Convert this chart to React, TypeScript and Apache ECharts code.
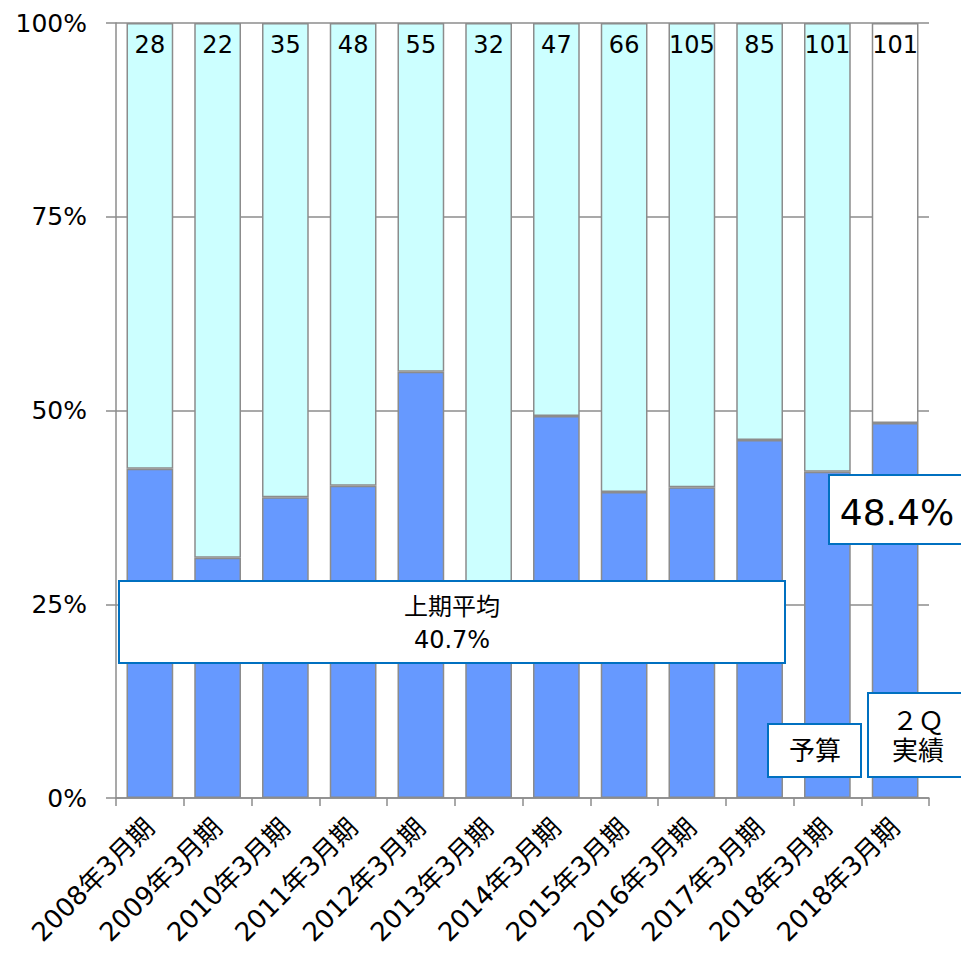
import React, { useEffect, useRef } from "react";
import * as echarts from "echarts";

const categories = [
  "2008年3月期", "2009年3月期", "2010年3月期", "2011年3月期", "2012年3月期", "2013年3月期",
  "2014年3月期", "2015年3月期", "2016年3月期", "2017年3月期", "2018年3月期", "2018年3月期",
];
// share (%) of the first half (blue segment)
const firstHalfShare = [42.5, 31.0, 38.8, 40.3, 55.0, 24.3, 49.3, 39.5, 40.1, 46.2, 42.1, 48.4];
// totals printed at the top of each bar
const totals = [28, 22, 35, 48, 55, 32, 47, 66, 105, 85, 101, 101];
const yTicks = [0, 25, 50, 75, 100];

const FONT = "'DejaVu Sans', 'Noto Sans CJK JP', sans-serif";
const GRAY = "#8c8c8c";
const BOX = "#0070C0";

export default function App() {
  const ref = useRef<HTMLDivElement>(null);
  useEffect(() => {
    document.body.style.margin = "0";
    const chart = echarts.init(ref.current!, null, { renderer: "svg" });
    const remainder = firstHalfShare.map((v, i) => ({
      value: 100 - v,
      itemStyle: i === firstHalfShare.length - 1 ? { color: "#ffffff" } : undefined,
    }));
    const box = (x: number, y: number, w: number, h: number) => ({
      type: "rect",
      shape: { x, y, width: w, height: h },
      style: { fill: "#ffffff", stroke: BOX, lineWidth: 2 },
      z: 100,
    });
    const txt = (x: number, y: number, text: string, size: number, lh: number) => ({
      type: "text",
      x,
      y,
      style: {
        text,
        fill: "#000",
        fontSize: size,
        fontFamily: FONT,
        lineHeight: lh,
        align: "center",
        verticalAlign: "middle",
      },
      z: 101,
    });
    chart.setOption({
      animation: false,
      textStyle: { fontFamily: FONT },
      grid: { left: 116, right: 32, top: 23, bottom: 157, containLabel: false },
      xAxis: {
        type: "category",
        data: categories,
        axisLine: { lineStyle: { color: GRAY, width: 1.5 } },
        axisTick: { show: true, length: 8, lineStyle: { color: GRAY, width: 1.5 } },
        axisLabel: { rotate: 45, fontSize: 26, color: "#000", margin: 25, fontFamily: FONT, interval: 0 },
      },
      yAxis: {
        type: "value",
        min: 0,
        max: 100,
        interval: 25,
        axisLine: { show: true, lineStyle: { color: GRAY, width: 1.5 } },
        axisTick: { show: true, length: 10, lineStyle: { color: GRAY, width: 1.5 } },
        axisLabel: {
          fontSize: 25,
          color: "#000",
          margin: 29,
          fontFamily: FONT,
          formatter: (v: number) => (yTicks.includes(v) ? `${v}%` : ""),
        },
        splitLine: { show: true, lineStyle: { color: GRAY, width: 1.5 } },
      },
      series: [
        {
          type: "bar",
          stack: "s",
          data: firstHalfShare,
          barCategoryGap: "31%",
          itemStyle: { color: "#6699FF", borderColor: GRAY, borderWidth: 1.5 },
        },
        {
          type: "bar",
          stack: "s",
          data: remainder,
          itemStyle: { color: "#CCFFFF", borderColor: GRAY, borderWidth: 1.5 },
          label: {
            show: true,
            position: "insideTop",
            distance: 10,
            fontSize: 24,
            color: "#000",
            fontFamily: FONT,
            formatter: (p: any) => String(totals[p.dataIndex]),
          },
        },
      ],
      graphic: [
        box(119, 581, 666, 82),
        txt(452, 623, "上期平均\n40.7%", 24, 33),
        box(829, 475, 150, 69),
        txt(897, 512, "48.4%", 36, 40),
        box(768, 724, 93, 53),
        txt(815, 751, "予算", 26, 30),
        box(868, 693, 120, 84),
        txt(918, 736, "２Ｑ\n実績", 26, 30),
      ],
    });
    return () => chart.dispose();
  }, []);
  return <div ref={ref} style={{ width: 961, height: 955 }} />;
}
